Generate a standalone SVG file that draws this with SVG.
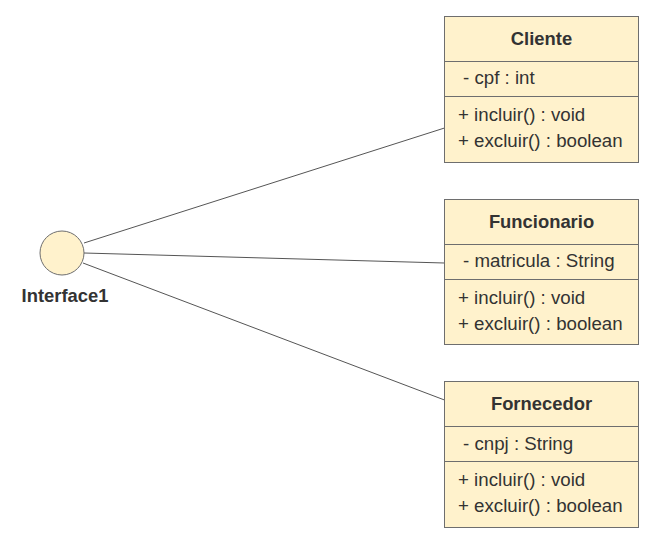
<svg xmlns="http://www.w3.org/2000/svg" width="671" height="544" viewBox="0 0 671 544">
<style>
.box{fill:#fff2cc;stroke:#6e6e6e;stroke-width:1}
.div{stroke:#6e6e6e;stroke-width:1}
.t{font-family:"Liberation Sans",Arial,sans-serif;font-size:18.7px;fill:#333333}
.b{font-weight:bold;text-anchor:middle;font-size:18.4px}
.edge{stroke:#555555;stroke-width:1;fill:none}
</style>
<rect width="671" height="544" fill="#ffffff"/>
<g id="connectors">
<line class="edge" x1="84" y1="243" x2="444.5" y2="128"/>
<line class="edge" x1="84" y1="253" x2="444.5" y2="263"/>
<line class="edge" x1="83" y1="263" x2="444.5" y2="400"/>
</g>
<g id="interface1">
<circle cx="62" cy="253" r="22" fill="#fff2cc" stroke="#6e6e6e"/>
<text class="t b" x="65" y="302">Interface1</text>
</g>
<g id="cliente">
<rect class="box" x="444.5" y="16.5" width="194" height="146"/>
<line class="div" x1="444.5" y1="61.5" x2="638.5" y2="61.5"/>
<line class="div" x1="444.5" y1="96.5" x2="638.5" y2="96.5"/>
<text class="t b" x="541.5" y="45">Cliente</text>
<text class="t" x="463" y="84">- cpf : int</text>
<text class="t" x="458" y="121">+ incluir() : void</text>
<text class="t" x="458" y="147">+ excluir() : boolean</text>
</g>
<g id="funcionario">
<rect class="box" x="444.5" y="199.5" width="194" height="145"/>
<line class="div" x1="444.5" y1="244.5" x2="638.5" y2="244.5"/>
<line class="div" x1="444.5" y1="279.5" x2="638.5" y2="279.5"/>
<text class="t b" x="541.5" y="228">Funcionario</text>
<text class="t" x="463" y="267">- matricula : String</text>
<text class="t" x="458" y="304">+ incluir() : void</text>
<text class="t" x="458" y="330">+ excluir() : boolean</text>
</g>
<g id="fornecedor">
<rect class="box" x="444.5" y="381.5" width="194" height="146"/>
<line class="div" x1="444.5" y1="426.5" x2="638.5" y2="426.5"/>
<line class="div" x1="444.5" y1="461.5" x2="638.5" y2="461.5"/>
<text class="t b" x="541.5" y="410">Fornecedor</text>
<text class="t" x="463" y="450">- cnpj : String</text>
<text class="t" x="458" y="486">+ incluir() : void</text>
<text class="t" x="458" y="512">+ excluir() : boolean</text>
</g>
</svg>
